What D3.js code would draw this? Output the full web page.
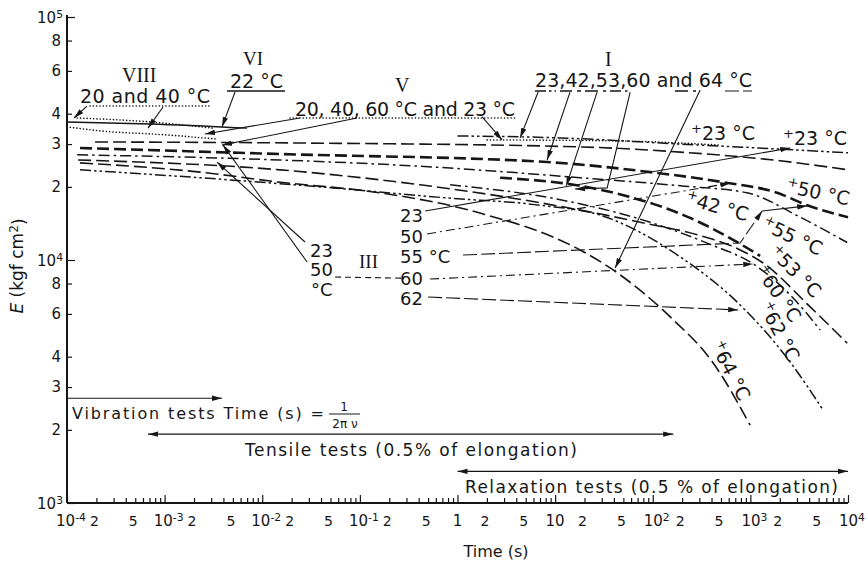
<!DOCTYPE html>
<html><head><meta charset="utf-8">
<script src="https://cdn.jsdelivr.net/npm/d3@7"></script>
<style>
body{margin:0;background:#fff;}
svg{display:block;font-family:"DejaVu Sans",sans-serif;}
</style></head><body>
<svg id="chart" width="868" height="565"></svg>
<script>
// ---- axis tick values ----
const xDecades = [-4,-3,-2,-1,0,1,2,3,4];
const xMinorMult = [2,3,4,5,6,7,8,9];
const xLabelMult = [2,5];
const yDecades = [3,4,5];
const yLabelMult = [2,3,4,6,8];

// ---- modulus curves: [time (s), E (kgf/cm2)] ----
// vibration tests
const vib20 = [[1.27e-4,38400],[7.09e-4,37000],[3.06e-3,34900]];
const vib40 = [[1e-4,35300],[2.18e-4,34000],[1.06e-3,32700],[3.28e-3,31500]];
const vib22 = [[1e-4,37000],[7.09e-4,36300],[6.99e-3,34900]];
// tensile + relaxation curves
const curveA = [[1.94e-4,30600],[0.0244,30300],[18.0,29200],[191,27800],[2020,25600],[1e4,23500]];
const curveB = [[1.36e-4,28900],[0.0152,27300],[8.28,25300],[94.1,23000],[526,20900],[1880,18900],[3820,16800],[1e4,15000]];
const curveC = [[1.27e-4,27100],[0.0152,25800],[0.840,23900],[18.0,21800],[191,20200],[927,18900],[3240,15000],[9810,11800]];
const curveD = [[1.30e-4,25800],[0.0152,23500],[0.414,20400],[7.02,17200],[74.3,14300],[306,12600],[786,11000],[1352,9720],[4100,6410],[9810,4550]];
const curve64 = [[1.36e-4,25100],[2.31e-3,23000],[0.0152,20900],[0.161,18900],[1.70,15600],[18.0,11000],[39.3,9100],[151,5830],[416,3770],[995,2090]];
const curve62 = [[1.36e-4,23500],[2.31e-3,21800],[0.0531,19800],[0.782,18000],[7.02,16800],[28.9,15300],[191,10300],[824,6410],[2560,3800],[5570,2410]];
const curve60 = [[0.840,20400],[11.3,17700],[94.1,14300],[387,11600],[1070,9630],[2560,7180],[5190,5150]];
const relax23 = [[1.0,32400],[11.3,31800],[191,30000],[2020,28600],[1e4,27600]];
const relax23b = [[2.01,31200],[46.3,30900],[490,29700]];
const relax42 = [[2.73,21800],[18.0,20200],[54.7,18300],[242,14900],[666,12100],[1260,10400]];

// ---- leader lines ----
const leadVIII = [[[1.60e-4,43000],[1.18e-4,38400]],[[9.63e-4,42600],[6.76e-4,34900]]];
const leadVI = [[[5.26e-3,49100],[3.87e-3,35300]]];
const leadV = [[[0.0244,38400],[2.59e-3,33000]],[[0.0936,38400],[3.87e-3,29700]],[[1.79,38800],[2.86,31200]]];
const leadIIIleft = [[[0.0274,11860],[3.44e-3,25300]],[[0.0288,9810],[3.97e-3,29700]]];
const leadI = [[[6.70,49100],[4.38,31800]],[[14.2,49100],[8.28,25800]],[[26.9,49100],[13.0,20200]],
               [[58.7,49100],[34.1,19800],[16.0,19600]],[[306,50100],[41.2,9270]]];
const lead23 = [[0.466,15900],[2560,28900]];
const lead50 = [[0.488,12800],[621,20700]];
const lead55a = [[1.14,10480],[786,11750],[1320,15900]];
const lead55b = [[1320,15900],[3820,16700]];
const lead60 = [[0.524,8350],[1070,9630]];
const lead62 = [[0.500,7040],[750,6230]];
const leadIII = [[0.0557,8510],[0.290,8420]];

// ---- test ranges: [start, end, E level] ----
const rangeVibration = [1e-4,3.87e-3,2700];
const rangeTensile = [6.76e-4,162,1920];
const rangeRelax = [1,1e4,1350];

const INK = "#161616";
const svg = d3.select("#chart");
const x = d3.scaleLog().domain([1e-4,1e4]).range([67,848]);
const y = d3.scaleLog().domain([1e3,1e5]).range([503,17]);

const defs = svg.append("defs");
defs.append("marker").attr("id","arr").attr("viewBox","0 0 10 10")
  .attr("refX",10).attr("refY",5).attr("markerWidth",10).attr("markerHeight",6)
  .attr("markerUnits","userSpaceOnUse").attr("preserveAspectRatio","none")
  .attr("orient","auto-start-reverse")
  .append("path").attr("d","M0,0.5L10,5L0,9.5Z").attr("fill",INK);

const styles = {
  dotted:{w:1.6,dash:"0.1,3.2",cap:"round"},
  solid:{w:1.4,dash:null},
  longDash:{w:1.6,dash:"13,5"},
  dashDot:{w:1.5,dash:"11,4,2.5,4"},
  dashDotDot:{w:1.5,dash:"11,3,2.5,3,2.5,3"},
  boldDash:{w:2.6,dash:"12,5"},
  thin:{w:1.1,dash:null},
  thinDashDot:{w:1.1,dash:"9,4,2,4"},
  thinLong:{w:1.1,dash:"14,4"},
  thinDash:{w:1.1,dash:"6,4"}
};

const curveLine = d3.line().x(d=>x(d[0])).y(d=>y(d[1])).curve(d3.curveMonotoneX);
const straight = d3.line().x(d=>x(d[0])).y(d=>y(d[1]));

function draw(pts, st, gen, arrowEnd, arrowStart){
  const s = styles[st];
  const p = svg.append("path").attr("d",gen(pts)).attr("fill","none")
    .attr("stroke",INK).attr("stroke-width",s.w)
    .attr("stroke-linecap",s.cap||"butt");
  if (s.dash) p.attr("stroke-dasharray",s.dash);
  if (arrowEnd) p.attr("marker-end","url(#arr)");
  if (arrowStart) p.attr("marker-start","url(#arr)");
  return p;
}

// ---- axes ----
const xMinor = [];
xDecades.slice(0,-1).forEach(k=>xMinorMult.forEach(m=>xMinor.push(m*Math.pow(10,k))));
const xMaj = xDecades.map(k=>Math.pow(10,k));
const gxMinor = svg.append("g").attr("transform","translate(0,503)")
  .call(d3.axisBottom(x).tickValues(xMinor).tickSize(-5).tickSizeOuter(0).tickFormat(""));
const gxMajor = svg.append("g").attr("transform","translate(0,503)")
  .call(d3.axisBottom(x).tickValues(xMaj).tickSize(-8).tickSizeOuter(0).tickFormat(""));
gxMinor.select(".domain").remove();
gxMajor.select(".domain").attr("d","M67,0H848");
svg.selectAll(".tick line").attr("stroke",INK).attr("stroke-width",1.2);
gxMajor.select(".domain").attr("stroke",INK).attr("stroke-width",2);

const yTicks = [];
yDecades.forEach(k=>{ yTicks.push(Math.pow(10,k)); if(k<5) yLabelMult.forEach(m=>yTicks.push(m*Math.pow(10,k))); });
const gy = svg.append("g").attr("transform","translate(67,0)")
  .call(d3.axisRight(y).tickValues(yTicks).tickSize(5).tickSizeOuter(0).tickFormat(""));
gy.select(".domain").attr("d","M0,503V15").attr("stroke",INK).attr("stroke-width",2);
gy.selectAll(".tick line").attr("stroke",INK).attr("stroke-width",1.2)
  .attr("x2",d=>Math.log10(d)%1===0?8:5);

function powLabel(t,k){
  t.append("tspan").text("10");
  t.append("tspan").attr("dy","-0.45em").attr("font-size","0.72em").text(k);
}
// x tick labels
const xl = svg.append("g").attr("font-size",15).attr("fill",INK);
xDecades.forEach(k=>{
  const v = Math.pow(10,k);
  const t = xl.append("text").attr("y",526).attr("text-anchor","middle");
  if (k===0) t.attr("x",x(v)).text("1");
  else if (k===1) t.attr("x",x(v)).text("10");
  else { t.attr("x",x(v)+4); powLabel(t,k); }
  if (k<4) xLabelMult.forEach(m=>{
    xl.append("text").attr("x",x(m*v)-2).attr("y",526).attr("text-anchor","middle")
      .attr("font-size",14).text(m);
  });
});
// y tick labels
const yl = svg.append("g").attr("font-size",15).attr("fill",INK).attr("text-anchor","end");
yDecades.forEach(k=>{
  const v = Math.pow(10,k);
  const t = yl.append("text").attr("x",63).attr("y",y(v)+6);
  powLabel(t,k);
  if (k<5) yLabelMult.forEach(m=>{
    yl.append("text").attr("x",61).attr("y",y(m*v)+5).text(m);
  });
});
// axis titles
svg.append("text").attr("x",496).attr("y",557).attr("text-anchor","middle")
  .attr("font-size",16).attr("fill",INK).text("Time (s)");
const ylab = svg.append("text").attr("transform","translate(23,266) rotate(-90)")
  .attr("text-anchor","middle").attr("font-size",17).attr("fill",INK);
ylab.append("tspan").attr("font-style","italic").text("E");
ylab.append("tspan").text(" (kgf cm");
ylab.append("tspan").attr("dy","-0.4em").attr("font-size","0.72em").text("2");
ylab.append("tspan").attr("dy","0.4em").text(")");

// ---- curves ----
draw(vib20,"dotted",curveLine);
draw(vib40,"dotted",curveLine);
draw(vib22,"solid",curveLine);
draw(curveA,"longDash",curveLine);
draw(curveB,"boldDash",curveLine);
draw(curveC,"dashDot",curveLine);
draw(curveD,"longDash",curveLine);
draw(curve64,"longDash",curveLine);
draw(curve62,"dashDotDot",curveLine);
draw(curve60,"dashDot",curveLine);
draw(relax23,"dashDotDot",curveLine);
draw(relax23b,"dotted",curveLine);
draw(relax42,"boldDash",curveLine);

// ---- leaders ----
[...leadVIII,...leadVI,...leadV,...leadIIIleft,...leadI].forEach(l=>draw(l,"thin",straight,true));
draw(lead23,"thin",straight,true);
draw(lead50,"thinDashDot",straight,true);
draw(lead55a,"thinLong",straight,true);
draw(lead55b,"thin",straight,true);
draw(lead60,"thinDashDot",straight,true);
draw(lead62,"thinLong",straight,true);
draw(leadIII,"thinDash",straight,false);

// ---- test range arrows ----
draw([[rangeVibration[0],rangeVibration[2]],[rangeVibration[1],rangeVibration[2]]],"thin",straight,true);
draw([[rangeTensile[0],rangeTensile[2]],[rangeTensile[1],rangeTensile[2]]],"thin",straight,true,true);
draw([[rangeRelax[0],rangeRelax[2]],[rangeRelax[1],rangeRelax[2]]],"thin",straight,true,true);

// ---- text annotations ----
const ann = svg.append("g").attr("fill",INK);
function label(txt,px,py,size,opts={}){
  const t = ann.append("text").attr("x",px).attr("y",py).attr("font-size",size)
    .attr("text-anchor",opts.anchor||"start").text(txt);
  if (opts.serif) t.attr("font-family","'Liberation Serif',serif");
  if (opts.len) t.attr("textLength",opts.len).attr("lengthAdjust","spacing");
  return t;
}
label("VIII",122,82,20,{serif:true});
label("20 and 40 °C",80,103,19,{len:130});
label("VI",243,65,19,{serif:true});
label("22 °C",230,88,19,{len:53});
label("V",395,92,20,{serif:true});
label("20, 40, 60 °C  and 23 °C",295,116,19,{len:220});
label("I",605,66,20,{serif:true});
label("23,42,53,60 and 64 °C",535,87,19,{len:217});
label("23",310,257,18);
label("50",310,276,18);
label("°C",311,296,18);
label("III",359,268,19,{serif:true});
label("23",400,222,18);
label("50",400,243,18);
label("55 °C",400,263,18);
label("60",400,285,18);
label("62",400,305,18);

// header underlines (line keys)
const keys = [
  [90,212,106,"dotted"],[227,285,91,"solid"],[290,517,118,"dotted"],
  [535,556,91,"dashDotDot"],[560,581,91,"boldDash"],[585,606,91,"longDash"],
  [610,631,91,"dashDot"],[675,696,91,"longDash"],[725,752,91,"thinLong"]
];
keys.forEach(k=>{
  const s = styles[k[3]];
  const l = ann.append("line").attr("x1",k[0]).attr("x2",k[1]).attr("y1",k[2]).attr("y2",k[2])
    .attr("stroke",INK).attr("stroke-width",Math.min(s.w,1.6)).attr("stroke-linecap",s.cap||"butt");
  if (s.dash) l.attr("stroke-dasharray",s.dash);
});

// curve temperature tags
function tag(num,cx,cy,rot){
  const t = ann.append("text").attr("transform",`translate(${cx},${cy}) rotate(${rot})`)
    .attr("text-anchor","middle").attr("dominant-baseline","middle").attr("font-size",19);
  t.append("tspan").attr("font-size",13).attr("dy",-5).text("+");
  t.append("tspan").attr("dy",5).text(num+" °C");
}
tag("23",723,134,0);
tag("23",815,139,0);
tag("50",818,193,12);
tag("42",717,207,15);
tag("55",792,237,25);
tag("53",795,272,45);
tag("60",778,294,55);
tag("62",779,332,62);
tag("64",730,371,63);

// range captions
label("Vibration  tests  Time (s) =",72,419,16,{len:252});
label("1",344,411,12,{anchor:"middle"});
ann.append("line").attr("x1",329).attr("x2",360).attr("y1",414).attr("y2",414).attr("stroke",INK).attr("stroke-width",1);
label("2π ν",345,428,12,{anchor:"middle"});
label("Tensile  tests  (0.5%  of  elongation)",245,456,17,{len:332});
label("Relaxation  tests (0.5  %  of  elongation)",465,493,17,{len:373});
</script>
</body></html>
